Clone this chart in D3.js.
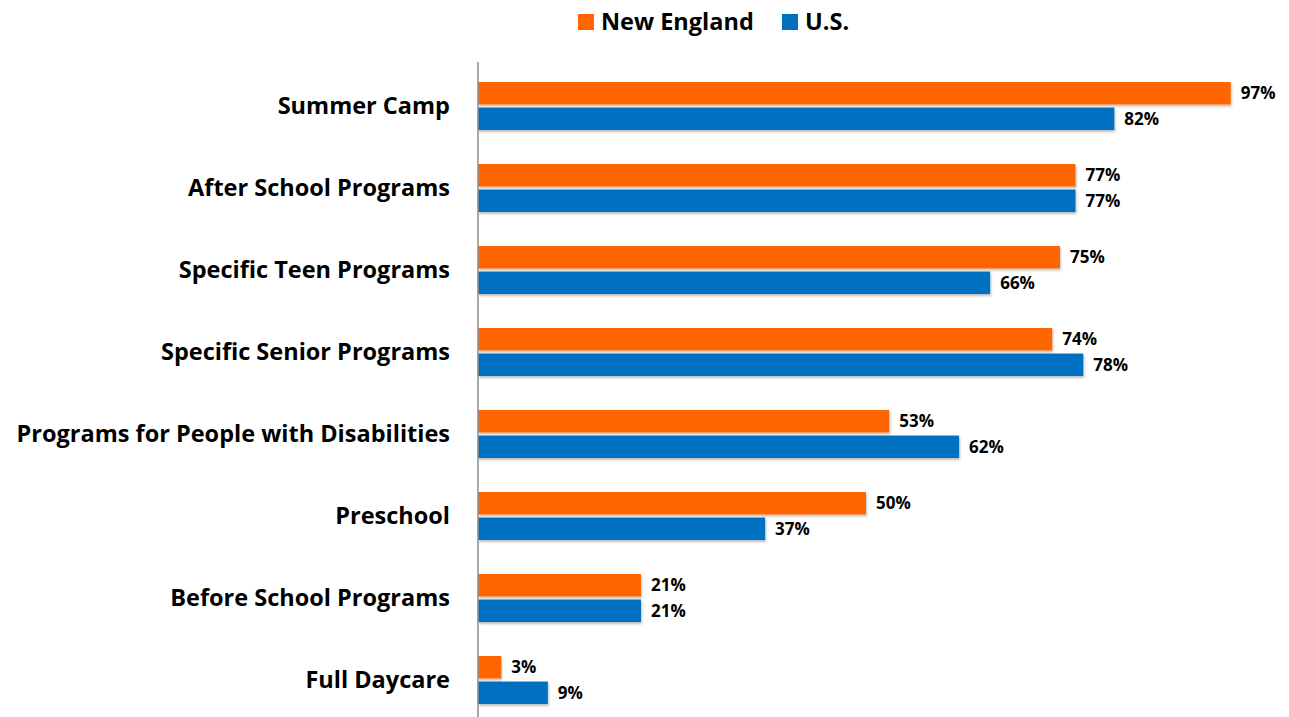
<!DOCTYPE html>
<html>
<head>
<meta charset="utf-8">
<script src="https://cdn.jsdelivr.net/npm/d3@7"></script>
<style>
  body { margin: 0; background: #fff; }
  svg { font-family: "Open Sans", Lato, sans-serif; font-weight: 700; }
</style>
</head>
<body>
<div id="chart"></div>
<script>
const categories = [
	"Summer Camp",
	"After School Programs",
	"Specific Teen Programs",
	"Specific Senior Programs",
	"Programs for People with Disabilities",
	"Preschool",
	"Before School Programs",
	"Full Daycare"
];
const seriesNames = ["New England", "U.S."];
const newEngland = [97, 77, 75, 74, 53, 50, 21, 3];
const us = [82, 77, 66, 78, 62, 37, 21, 9];

const width = 1289, height = 717;
const colors = { "New England": "#FF6600", "U.S.": "#0070C0" };

const data = categories.map((c, i) => ({
	category: c,
	"New England": newEngland[i],
	"U.S.": us[i]
}));

const svg = d3.select('#chart')
	.append('svg')
	.attr('width', width)
	.attr('height', height);

// subtle drop shadow like the office chart
const defs = svg.append('defs');
const filt = defs.append('filter').attr('id', 'shadow')
	.attr('x', '-5%').attr('y', '-20%').attr('width', '110%').attr('height', '160%');
filt.append('feDropShadow')
	.attr('dx', 1).attr('dy', 2).attr('stdDeviation', 1.2)
	.attr('flood-color', '#000').attr('flood-opacity', 0.25);

// scales
const x = d3.scaleLinear().domain([0, 100]).range([478, 1254]);

const y0 = d3.scaleBand()
	.domain(categories)
	.range([65, 721])
	.paddingInner(0)
	.paddingOuter(0);

const y1 = d3.scaleBand()
	.domain(seriesNames)
	.range([17, 65])
	.paddingInner(0.12);

// category labels
svg.append('g')
	.selectAll('text')
	.data(categories)
	.join('text')
	.attr('x', 450)
	.attr('y', d => y0(d) + 41)
	.attr('dy', '0.35em')
	.attr('text-anchor', 'end')
	.attr('font-size', 23.5)
	.attr('fill', '#000')
	.text(d => d);

// bars
const groups = svg.append('g')
	.selectAll('g')
	.data(data)
	.join('g')
	.attr('transform', d => `translate(0,${y0(d.category)})`);

const bars = groups.selectAll('g')
	.data(d => seriesNames.map(k => ({ key: k, value: d[k] })))
	.join('g');

bars.append('rect')
	.attr('x', x(0))
	.attr('y', d => y1(d.key))
	.attr('width', d => x(d.value) - x(0))
	.attr('height', y1.bandwidth())
	.attr('fill', d => colors[d.key])
	.attr('filter', 'url(#shadow)');

bars.append('text')
	.attr('x', d => x(d.value) + 10)
	.attr('y', d => y1(d.key) + y1.bandwidth() / 2)
	.attr('dy', '0.35em')
	.attr('font-size', 17)
	.attr('fill', '#000')
	.text(d => d.value + '%');

// vertical axis line
svg.append('line')
	.attr('x1', x(0)).attr('x2', x(0))
	.attr('y1', 62).attr('y2', height)
	.attr('stroke', '#8c8c8c')
	.attr('stroke-width', 1.5);

// legend
const legend = svg.append('g');
const legendItems = [
	{ key: "New England", x: 578 },
	{ key: "U.S.", x: 782 }
];
legendItems.forEach(it => {
	legend.append('rect')
		.attr('x', it.x).attr('y', 14)
		.attr('width', 16).attr('height', 16)
		.attr('fill', colors[it.key]);
	legend.append('text')
		.attr('x', it.x + 23).attr('y', 22)
		.attr('dy', '0.35em')
		.attr('font-size', 23.5)
		.attr('fill', '#000')
		.text(it.key);
});
</script>
</body>
</html>
